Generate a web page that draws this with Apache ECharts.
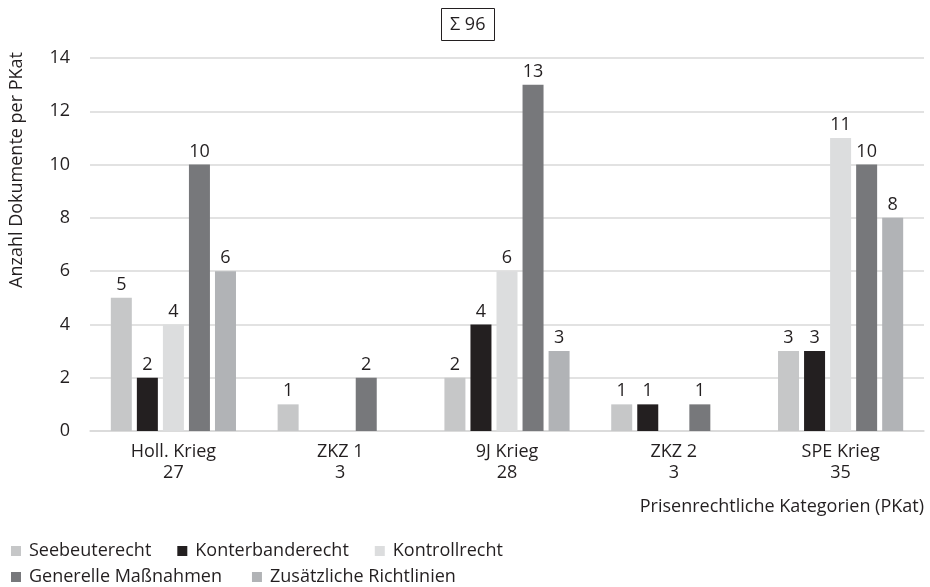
<!DOCTYPE html>
<html>
<head>
<meta charset="utf-8">
<script src="https://cdn.jsdelivr.net/npm/echarts@6/dist/echarts.min.js"></script>
<style>
html, body { margin: 0; padding: 0; background: #fff; }
#chart { width: 930px; height: 587px; }
</style>
</head>
<body>
<div id="chart"></div>
<script>
var kategorien = ['Holl. Krieg', 'ZKZ 1', '9J Krieg', 'ZKZ 2', 'SPE Krieg'];
var summen = [27, 3, 28, 3, 35];
var yTicks = [0, 2, 4, 6, 8, 10, 12, 14];

var seebeuterecht = [5, 1, 2, 1, 3];
var konterbanderecht = [2, null, 4, 1, 3];
var kontrollrecht = [4, null, 6, null, 11];
var generelle = [10, 2, 13, 1, 10];
var zusaetzliche = [6, null, 3, null, 8];

var FONT = 'Open Sans';
var FS = 18;
var TXT = '#231f20';

var xLabels = kategorien.map(function (k, i) { return k + '\n' + summen[i]; });

var mkSeries = function (name, data, color) {
    return {
        name: name,
        type: 'bar',
        data: data,
        barWidth: 21,
        barGap: '24%',
        itemStyle: { color: color },
        label: {
            show: true,
            position: 'top',
            distance: 4,
            color: TXT,
            fontFamily: FONT,
            fontSize: FS
        }
    };
};

var legendText = { color: TXT, fontFamily: FONT, fontSize: FS, padding: [0, 0, 0, 3] };

var option = {
    animation: false,
    title: {
        text: 'Σ 96',
        left: 441,
        top: 8,
        padding: [8, 9, 7, 9],
        borderColor: TXT,
        borderWidth: 1,
        textStyle: { color: TXT, fontFamily: FONT, fontSize: FS, fontWeight: 'normal' }
    },
    legend: [
        {
            data: ['Seebeuterecht', 'Konterbanderecht', 'Kontrollrecht'],
            left: 6, top: 537,
            icon: 'rect', itemWidth: 10, itemHeight: 10, itemGap: 26,
            textStyle: legendText
        },
        {
            data: ['Generelle Maßnahmen', 'Zusätzliche Richtlinien'],
            left: 6, top: 563,
            icon: 'rect', itemWidth: 10, itemHeight: 10, itemGap: 30,
            textStyle: legendText
        }
    ],
    grid: { left: 90, right: 6, top: 58, bottom: 156 },
    xAxis: {
        type: 'category',
        data: xLabels,
        name: 'Prisenrechtliche Kategorien (PKat)',
        nameLocation: 'end',
        nameGap: 0,
        nameTextStyle: {
            color: TXT, fontFamily: FONT, fontSize: FS,
            align: 'right', verticalAlign: 'top', padding: [67, 0, 0, 0]
        },
        axisLine: { lineStyle: { color: '#d9d9d9', width: 1.5 } },
        axisTick: { show: false },
        axisLabel: {
            color: TXT, fontFamily: FONT, fontSize: FS,
            lineHeight: 21, margin: 10
        }
    },
    yAxis: {
        type: 'value',
        min: yTicks[0],
        max: yTicks[yTicks.length - 1],
        interval: 2,
        axisLine: { show: false },
        axisTick: { show: false },
        axisLabel: { color: TXT, fontFamily: FONT, fontSize: FS, margin: 20 },
        splitLine: { lineStyle: { color: '#d9d9d9', width: 1.5 } }
    },
    graphic: [{
        type: 'text',
        left: 8,
        top: 52,
        rotation: Math.PI / 2,
        style: {
            text: 'Anzahl Dokumente per PKat',
            fill: TXT,
            font: FS + 'px "Open Sans"'
        }
    }],
    series: [
        mkSeries('Seebeuterecht', seebeuterecht, '#c6c7c8'),
        mkSeries('Konterbanderecht', konterbanderecht, '#231f20'),
        mkSeries('Kontrollrecht', kontrollrecht, '#dcddde'),
        mkSeries('Generelle Maßnahmen', generelle, '#77787b'),
        mkSeries('Zusätzliche Richtlinien', zusaetzliche, '#b1b3b6')
    ]
};

var myChart = echarts.init(document.getElementById('chart'));
myChart.setOption(option);
</script>
</body>
</html>
